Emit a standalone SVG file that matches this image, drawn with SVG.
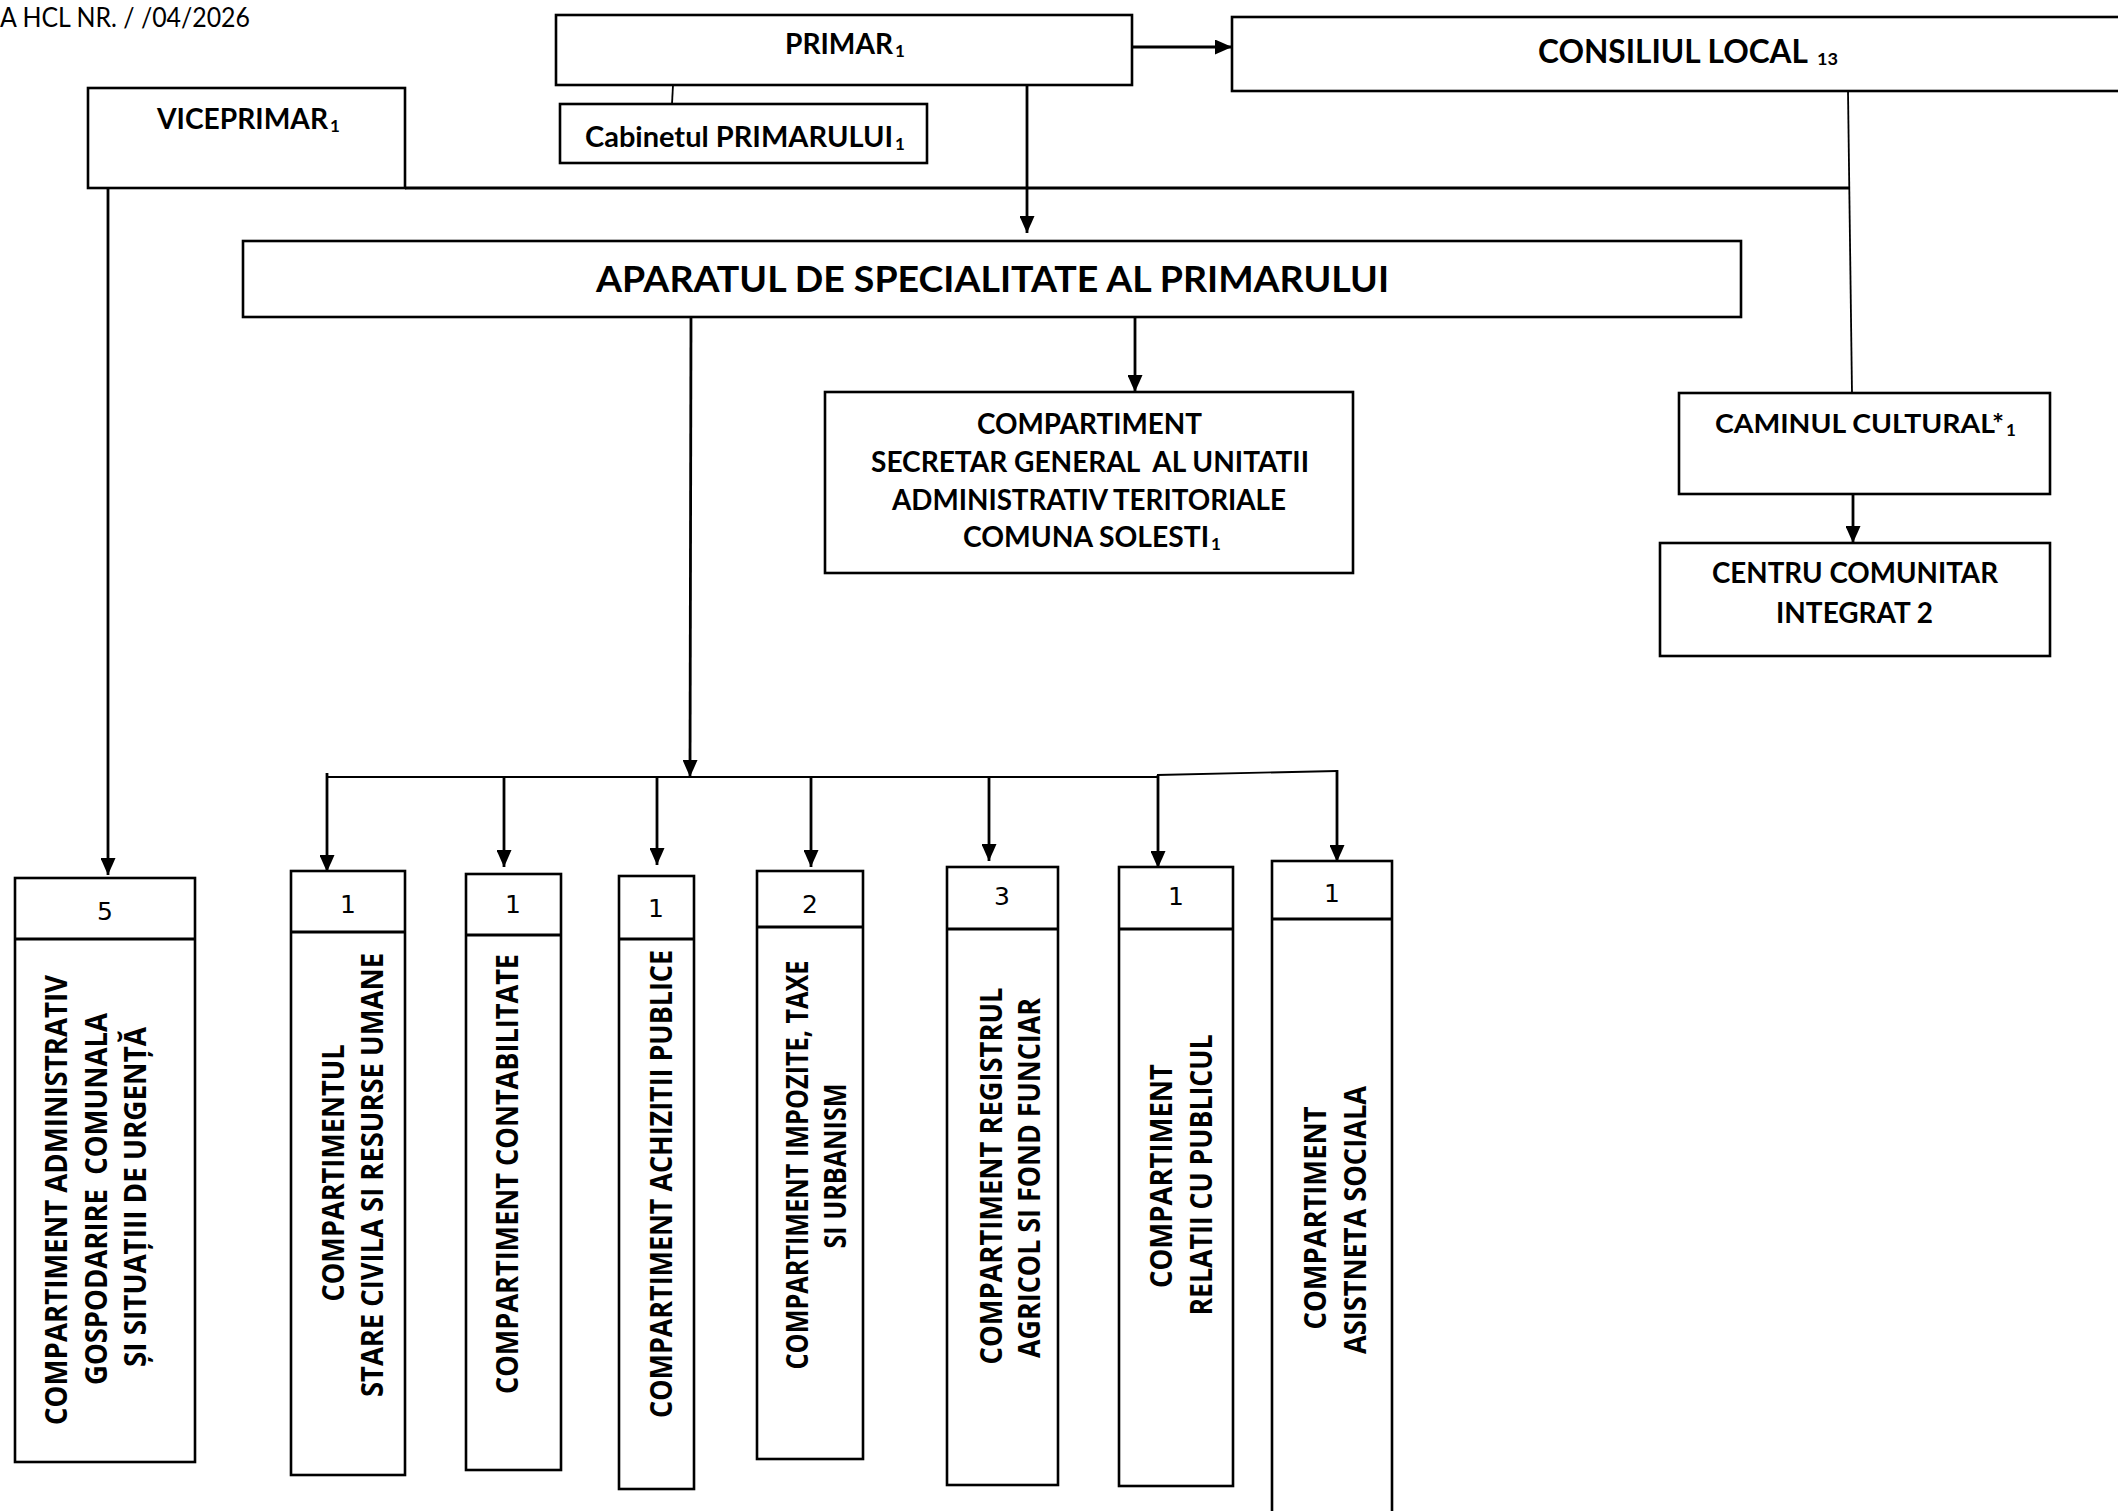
<svg xmlns="http://www.w3.org/2000/svg" width="2118" height="1511" viewBox="0 0 2118 1511">
<defs>
<marker id="arr" markerUnits="userSpaceOnUse" markerWidth="17" markerHeight="15" refX="17" refY="7.5" orient="auto"><path d="M0,0 L17,7.5 L0,15 z" fill="#000"/></marker>
<style>
rect{fill:#fff;stroke:#000;stroke-width:2.6}
.c{fill:none;stroke:#000;stroke-width:2.8}
.t{fill:none;stroke:#000;stroke-width:1.8}
.h{font-family:Lato,"Liberation Sans",sans-serif;font-weight:bold;fill:#000}
.s{font-family:Lato,"Liberation Sans",sans-serif;font-weight:bold;fill:#000;font-size:17px}
.r{font-family:"Open Sans","DejaVu Sans",sans-serif;font-weight:bold;font-size:30px;fill:#000;text-anchor:middle}
.n{font-family:"DejaVu Sans","Liberation Sans",sans-serif;font-size:25px;fill:#000;text-anchor:middle}
</style>
</defs>
<rect x="0" y="0" width="2118" height="1511" style="fill:#fff;stroke:none"/>
<text x="0" y="27" font-family="Lato,'Liberation Sans',sans-serif" font-size="26" textLength="250" lengthAdjust="spacingAndGlyphs">A HCL NR. / /04/2026</text>

<g id="connectors">
<line class="c" x1="1132" y1="47" x2="1232" y2="47" marker-end="url(#arr)"/>
<line class="t" x1="673" y1="85" x2="672" y2="104"/>
<line class="c" x1="1027" y1="85" x2="1027" y2="233" marker-end="url(#arr)"/>
<line class="c" x1="405" y1="188" x2="1850" y2="188"/>
<line class="t" x1="1848" y1="91" x2="1852" y2="393"/>
<line class="c" x1="108" y1="183" x2="108" y2="875" marker-end="url(#arr)"/>
<line class="c" x1="1135" y1="317" x2="1135" y2="392" marker-end="url(#arr)"/>
<line class="c" x1="1853" y1="494" x2="1853" y2="543" marker-end="url(#arr)"/>
<line class="c" x1="691" y1="317" x2="690" y2="777" marker-end="url(#arr)"/>
<polyline class="t" points="327,777 1157,777"/>
<polyline class="t" points="1157,775 1337,771"/>
<line class="c" x1="327" y1="773" x2="327" y2="872" marker-end="url(#arr)"/>
<line class="c" x1="504" y1="777" x2="504" y2="867" marker-end="url(#arr)"/>
<line class="c" x1="657" y1="777" x2="657" y2="865" marker-end="url(#arr)"/>
<line class="c" x1="811" y1="777" x2="811" y2="867" marker-end="url(#arr)"/>
<line class="c" x1="989" y1="777" x2="989" y2="861" marker-end="url(#arr)"/>
<line class="c" x1="1158" y1="775" x2="1158" y2="868" marker-end="url(#arr)"/>
<line class="c" x1="1337" y1="770" x2="1337" y2="862" marker-end="url(#arr)"/>
</g>

<g id="primar">
<rect x="556" y="15" width="576" height="70"/>
<text class="h" x="785" y="54" font-size="28" textLength="108" lengthAdjust="spacingAndGlyphs">PRIMAR</text>
<text class="s" x="895" y="57">1</text>
</g>
<g id="cabinet">
<rect x="560" y="104" width="367" height="59"/>
<text class="h" x="585" y="147" font-size="28" textLength="308" lengthAdjust="spacingAndGlyphs">Cabinetul PRIMARULUI</text>
<text class="s" x="895" y="150">1</text>
</g>
<g id="viceprimar">
<rect x="88" y="88" width="317" height="100"/>
<text class="h" x="157" y="129" font-size="28" textLength="171" lengthAdjust="spacingAndGlyphs">VICEPRIMAR</text>
<text class="s" x="330" y="132">1</text>
</g>
<g id="consiliul">
<rect x="1232" y="17" width="900" height="74"/>
<text class="h" x="1538" y="63" font-size="32" textLength="270" lengthAdjust="spacingAndGlyphs">CONSILIUL LOCAL</text>
<text class="s" x="1817" y="65" font-size="19" textLength="21" lengthAdjust="spacingAndGlyphs">13</text>
</g>
<g id="aparatul">
<rect x="243" y="241" width="1498" height="76"/>
<text class="h" x="596" y="292" font-size="36" textLength="793" lengthAdjust="spacingAndGlyphs">APARATUL DE SPECIALITATE AL PRIMARULUI</text>
</g>
<g id="secretar">
<rect x="825" y="392" width="528" height="181"/>
<text class="h" x="977" y="434" font-size="29" textLength="225" lengthAdjust="spacingAndGlyphs">COMPARTIMENT</text>
<text class="h" x="871" y="472" font-size="29" textLength="438" lengthAdjust="spacingAndGlyphs" style="white-space:pre">SECRETAR GENERAL  AL UNITATII</text>
<text class="h" x="892" y="510" font-size="29" textLength="394" lengthAdjust="spacingAndGlyphs">ADMINISTRATIV TERITORIALE</text>
<text class="h" x="963" y="547" font-size="28" textLength="246" lengthAdjust="spacingAndGlyphs">COMUNA SOLESTI</text>
<text class="s" x="1211" y="550">1</text>
</g>
<g id="caminul">
<rect x="1679" y="393" width="371" height="101"/>
<text class="h" x="1715" y="433" font-size="27" textLength="289" lengthAdjust="spacingAndGlyphs">CAMINUL CULTURAL*</text>
<text class="s" x="2006" y="436">1</text>
</g>
<g id="centru">
<rect x="1660" y="543" width="390" height="113"/>
<text class="h" x="1712" y="583" font-size="28" textLength="286" lengthAdjust="spacingAndGlyphs">CENTRU COMUNITAR</text>
<text class="h" x="1776" y="623" font-size="28" textLength="157" lengthAdjust="spacingAndGlyphs">INTEGRAT 2</text>
</g>

<g id="c-administrativ">
<rect x="15" y="878" width="180" height="584"/>
<line class="c" x1="15" y1="939" x2="195" y2="939"/>
<text class="n" x="105" y="920">5</text>
<text class="r" transform="translate(67,1200) rotate(-90)" textLength="450" lengthAdjust="spacingAndGlyphs">COMPARTIMENT ADMINISTRATIV</text>
<text class="r" transform="translate(107,1199) rotate(-90)" textLength="372" lengthAdjust="spacingAndGlyphs" style="white-space:pre">GOSPODARIRE  COMUNALA</text>
<text class="r" transform="translate(146,1197) rotate(-90)" textLength="340" lengthAdjust="spacingAndGlyphs">ȘI SITUAȚIII DE URGENȚĂ</text>
</g>
<g id="c-stare-civila">
<rect x="291" y="871" width="114" height="604"/>
<line class="c" x1="291" y1="932" x2="405" y2="932"/>
<text class="n" x="348" y="913">1</text>
<text class="r" transform="translate(344,1173) rotate(-90)" textLength="257" lengthAdjust="spacingAndGlyphs">COMPARTIMENTUL</text>
<text class="r" transform="translate(383,1175) rotate(-90)" textLength="444" lengthAdjust="spacingAndGlyphs">STARE CIVILA SI RESURSE UMANE</text>
</g>
<g id="c-contabilitate">
<rect x="466" y="874" width="95" height="596"/>
<line class="c" x1="466" y1="935" x2="561" y2="935"/>
<text class="n" x="513" y="913">1</text>
<text class="r" transform="translate(518,1174) rotate(-90)" textLength="440" lengthAdjust="spacingAndGlyphs">COMPARTIMENT CONTABILITATE</text>
</g>
<g id="c-achizitii">
<rect x="619" y="876" width="75" height="613"/>
<line class="c" x1="619" y1="939" x2="694" y2="939"/>
<text class="n" x="656" y="917">1</text>
<text class="r" transform="translate(672,1184) rotate(-90)" textLength="468" lengthAdjust="spacingAndGlyphs">COMPARTIMENT ACHIZITII PUBLICE</text>
</g>
<g id="c-impozite">
<rect x="757" y="871" width="106" height="588"/>
<line class="c" x1="757" y1="927" x2="863" y2="927"/>
<text class="n" x="810" y="913">2</text>
<text class="r" transform="translate(808,1165) rotate(-90)" textLength="409" lengthAdjust="spacingAndGlyphs">COMPARTIMENT IMPOZITE, TAXE</text>
<text class="r" transform="translate(846,1166) rotate(-90)" textLength="165" lengthAdjust="spacingAndGlyphs">SI URBANISM</text>
</g>
<g id="c-registrul">
<rect x="947" y="867" width="111" height="618"/>
<line class="c" x1="947" y1="929" x2="1058" y2="929"/>
<text class="n" x="1002" y="905">3</text>
<text class="r" transform="translate(1002,1176) rotate(-90)" textLength="377" lengthAdjust="spacingAndGlyphs">COMPARTIMENT REGISTRUL</text>
<text class="r" transform="translate(1040,1178) rotate(-90)" textLength="360" lengthAdjust="spacingAndGlyphs">AGRICOL SI FOND FUNCIAR</text>
</g>
<g id="c-relatii">
<rect x="1119" y="867" width="114" height="619"/>
<line class="c" x1="1119" y1="929" x2="1233" y2="929"/>
<text class="n" x="1176" y="905">1</text>
<text class="r" transform="translate(1172,1176) rotate(-90)" textLength="224" lengthAdjust="spacingAndGlyphs">COMPARTIMENT</text>
<text class="r" transform="translate(1212,1175) rotate(-90)" textLength="281" lengthAdjust="spacingAndGlyphs">RELATII CU PUBLICUL</text>
</g>
<g id="c-asistenta">
<rect x="1272" y="861" width="120" height="680"/>
<line class="c" x1="1272" y1="919" x2="1392" y2="919"/>
<text class="n" x="1332" y="902">1</text>
<text class="r" transform="translate(1326,1218) rotate(-90)" textLength="223" lengthAdjust="spacingAndGlyphs">COMPARTIMENT</text>
<text class="r" transform="translate(1366,1220) rotate(-90)" textLength="268" lengthAdjust="spacingAndGlyphs">ASISTNETA SOCIALA</text>
</g>
</svg>
